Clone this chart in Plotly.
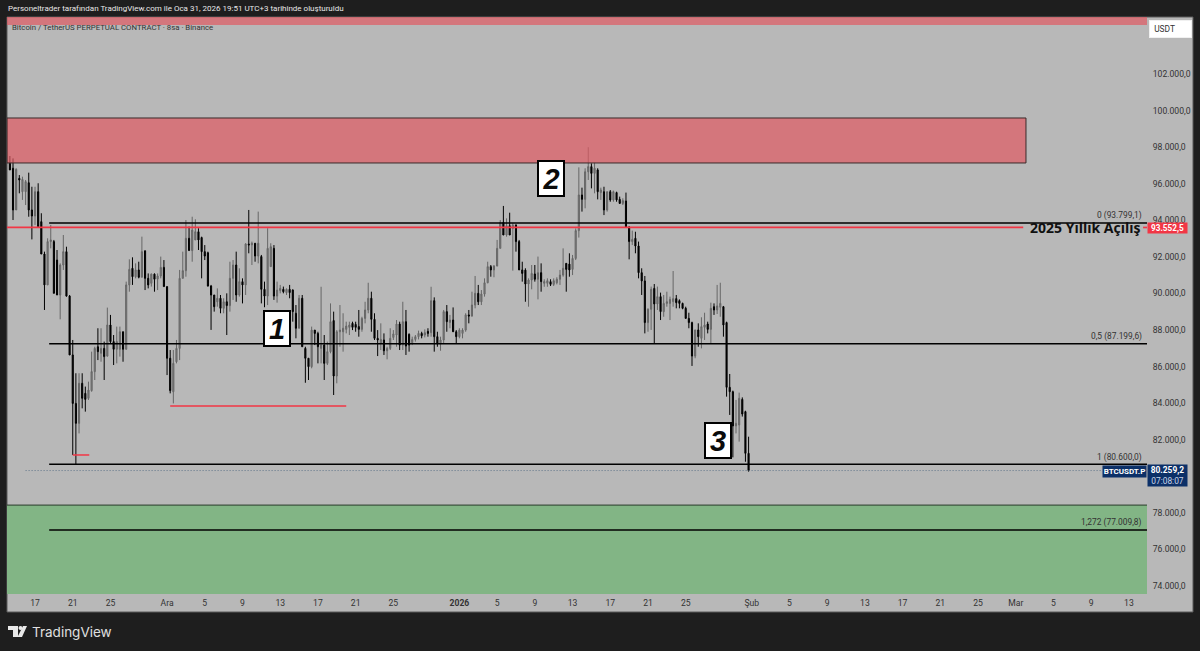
import pandas as pd
import plotly.graph_objects as go

# 8h mumlar
opens = [
    97060, 96790, 94510, 96240, 95510, 95510, 96000, 94510, 94180, 95510,
    93870, 92100, 90410, 92780, 92780, 91770, 89860, 91500, 92230, 89800,
    86580, 83930, 82840, 85030, 84480, 84210, 84630, 85670, 87030, 86670,
    86940, 86520, 88220, 87310, 86890, 86890, 87850, 86890, 90410, 91320,
    90860, 91230, 90830, 92280, 90770, 90500, 91000, 90730, 90900, 91370,
    90320, 86400, 84570, 86210, 86940, 90770, 91190, 92960, 92290, 92870,
    93320, 93000, 92230, 92170, 90350, 89860, 89490, 89680, 89130, 89490,
    89280, 90770, 91500, 89860, 90590, 90410, 92650, 92600, 92690, 91990,
    91960, 90170, 89800, 91410, 92410, 89800, 90100, 90170, 89990, 90170,
    90130, 88860, 88040, 89680, 86940, 86400, 85940, 87940, 87760, 86940,
    87120, 86120, 86760, 88460, 85430, 87850, 87850, 87980, 88090, 88310,
    88250, 88130, 87980, 88580, 89040, 89680, 88530, 87490, 87220, 87400,
    86810, 86940, 87540, 87670, 88270, 87120, 88400, 87710, 87250, 87430,
    87580, 87760, 87670, 87870, 87800, 89550, 87580, 87180, 87400, 88950,
    88360, 88490, 87850, 87580, 87760, 87940, 88770, 88710, 89310, 89950,
    89490, 89910, 90530, 91410, 91230, 91440, 92410, 93830, 93140, 93650,
    93500, 93690, 92780, 91230, 91220, 90460, 90680, 91010, 90720, 91080,
    90500, 90500, 90590, 90440, 90530, 90720, 90950, 91590, 91550, 91260,
    91860, 93380, 95330, 95090, 96600, 96880, 96510, 96700, 95460, 95510,
    94510, 95510, 95060, 95460, 95090, 94870, 95000, 93560, 92780, 92960,
    92540, 91080, 90630, 88350, 89080, 90220, 89370, 89770, 88950, 89400,
    89400, 89500, 89660, 89550, 89400, 89130, 88580, 88350, 86520, 87950,
    87490, 88090, 88270, 87980, 89220, 89040, 89190, 89220, 88350, 84810,
    84570, 82700, 82750, 84150, 83480, 81200,
]
highs = [
    97460, 97330, 96790, 96420, 96330, 96150, 96550, 95780, 95780, 95970,
    94330, 92230, 92960, 93690, 92870, 92320, 91590, 93140, 92500, 89860,
    87400, 85580, 85580, 85580, 84850, 85120, 86760, 87030, 88040, 88040,
    87310, 89170, 88770, 87670, 88130, 88130, 87850, 90590, 91810, 91920,
    91590, 91680, 93050, 92280, 91040, 91040, 91040, 91040, 91960, 91770,
    90320, 86850, 86850, 87400, 91230, 92230, 93960, 93600, 94140, 94000,
    93510, 93050, 92590, 92230, 90410, 89860, 90220, 89860, 89680, 89950,
    91680, 91770, 92230, 91320, 90770, 92690, 94510, 92780, 92690, 94420,
    92050, 90590, 93510, 92690, 92590, 90590, 90410, 90320, 90220, 90410,
    90170, 89310, 89860, 89860, 87030, 86400, 88130, 87940, 87850, 90310,
    87670, 87310, 89400, 88950, 87940, 89310, 88860, 88400, 88400, 88400,
    88400, 89040, 88670, 89490, 90530, 90040, 88860, 87940, 88310, 87760,
    87030, 88040, 87940, 88490, 88400, 89490, 89040, 87760, 87580, 87670,
    87910, 87850, 87980, 88040, 90310, 89730, 87850, 87580, 89040, 89310,
    88770, 89180, 87940, 88040, 88040, 88860, 89040, 90040, 90900, 90410,
    90130, 90770, 91680, 91500, 91500, 92870, 93960, 94730, 94050, 94360,
    93780, 93720, 92870, 91680, 91320, 90770, 91500, 91500, 91960, 91590,
    90720, 90770, 90720, 90770, 90830, 91230, 92410, 91590, 92140, 92050,
    93500, 96840, 95730, 96790, 97940, 97060, 97100, 96790, 95730, 95780,
    95510, 95600, 95570, 95510, 95240, 95150, 95460, 93630, 93380, 93320,
    92780, 91320, 90900, 89130, 90320, 90460, 90320, 89990, 89860, 90040,
    89770, 91170, 89860, 89620, 89440, 89220, 88890, 88400, 87950, 88310,
    88640, 88890, 88400, 89440, 89400, 90410, 90530, 89260, 88400, 85540,
    84630, 84120, 84520, 84260, 83530, 82110,
]
lows = [
    96690, 93960, 94510, 95420, 95060, 94780, 94140, 92900, 93690, 93600,
    92100, 89040, 90410, 92410, 89950, 89860, 88530, 91230, 89770, 86580,
    81110, 80600, 82290, 83660, 83480, 84120, 84570, 85210, 86300, 86210,
    85210, 86490, 87220, 86030, 86120, 86490, 86210, 86890, 90040, 90410,
    90770, 90770, 90830, 90130, 90220, 90320, 90040, 90130, 90770, 90320,
    85480, 84480, 83930, 86120, 86300, 90770, 90860, 92290, 91680, 92870,
    92320, 90770, 91770, 90320, 87950, 88950, 89220, 88860, 88860, 87670,
    88950, 89590, 89490, 89770, 89400, 89860, 92140, 91500, 91680, 91590,
    89400, 89190, 89310, 91410, 89590, 89440, 89950, 89950, 89860, 89680,
    88400, 87490, 88040, 87030, 85060, 85210, 85850, 87120, 86120, 86120,
    85210, 86030, 86670, 84390, 85030, 87030, 86760, 87760, 87670, 87940,
    87850, 87580, 87850, 88310, 88860, 87850, 87400, 86520, 86850, 86580,
    86340, 86850, 87400, 87030, 86850, 86850, 86580, 86760, 87120, 87310,
    87430, 87490, 87540, 87580, 87580, 86760, 87030, 86810, 87220, 87850,
    88040, 87850, 87220, 87490, 87490, 87850, 88310, 88670, 89130, 89310,
    89310, 89770, 90500, 90860, 90830, 91440, 92410, 93140, 93050, 93140,
    91190, 92230, 91230, 90590, 89490, 89220, 90170, 90590, 89620, 90040,
    90310, 90310, 90350, 90350, 90440, 90410, 90860, 90040, 90860, 90950,
    91770, 93000, 94420, 94600, 96150, 95690, 95420, 95090, 95060, 94230,
    94420, 94960, 94960, 94960, 94840, 94780, 93560, 91810, 92590, 92140,
    90770, 89860, 87760, 87850, 87950, 87180, 89040, 88490, 88670, 89220,
    88490, 89220, 89130, 89130, 89080, 88580, 88040, 85980, 86400, 87030,
    86940, 87400, 87760, 87220, 88770, 88820, 88670, 87580, 84300, 83300,
    80980, 82290, 81840, 83210, 80740, 80200,
]
closes = [
    96700, 94510, 96730, 96150, 96180, 96060, 94510, 94180, 95510, 93600,
    92100, 90410, 92780, 92870, 89950, 89860, 91500, 92230, 89800, 86580,
    83930, 82840, 85030, 84210, 84150, 84660, 85670, 86940, 86760, 86940,
    86490, 88220, 87310, 86890, 87310, 87850, 86890, 90410, 91260, 90860,
    91230, 90830, 92230, 90770, 90410, 91000, 90720, 90900, 91370, 90320,
    86400, 84630, 86120, 86940, 90770, 91190, 92960, 92290, 93410, 93320,
    92870, 92230, 91990, 90350, 89860, 89220, 89680, 89130, 89490, 89280,
    90770, 91500, 89860, 90590, 90410, 92650, 92600, 92690, 91990, 92690,
    90170, 89800, 92410, 92500, 89800, 90130, 90220, 90040, 90170, 89990,
    88950, 88040, 89680, 87030, 86400, 85940, 87940, 87760, 87030, 87120,
    86120, 86760, 88400, 85430, 87850, 87940, 88040, 88160, 88220, 88090,
    88090, 87980, 88580, 89040, 89680, 88530, 87490, 87400, 87430, 86810,
    86940, 87490, 87730, 88270, 87120, 88400, 87070, 87120, 87430, 87580,
    87760, 87630, 87800, 87760, 89550, 87580, 87180, 87400, 88950, 88400,
    88490, 87850, 87580, 87940, 87940, 88770, 88710, 89310, 89950, 89490,
    89910, 90530, 91410, 91230, 91440, 92410, 93830, 93140, 93650, 93140,
    93690, 92780, 91230, 91040, 90460, 90680, 91040, 90720, 91080, 90590,
    90590, 90640, 90440, 90640, 90720, 90950, 91320, 91260, 91230, 91860,
    93380, 95330, 95090, 96600, 96880, 96510, 96790, 95510, 95600, 94510,
    95510, 95060, 95510, 95060, 94870, 95020, 93560, 92780, 92900, 92540,
    91080, 90630, 88350, 89080, 90170, 89370, 89770, 88950, 89400, 89490,
    89620, 89660, 89440, 89400, 89130, 88580, 88350, 86520, 87950, 87580,
    88130, 88220, 87980, 89130, 89040, 89260, 89400, 88220, 84810, 84570,
    82700, 82840, 84210, 83350, 81200, 80259.2,
]

# fib seviyeleri
fib_levels = [93799.1, 87199.6, 80600.0, 77009.8]
fib_labels = ["0 (93.799,1)", "0,5 (87.199,6)", "1 (80.600,0)", "1,272 (77.009,8)"]

yearly_open = 93552.5
last_price = 80259.2
upper_zone = [97080, 99540]
top_zone_low = 104620
green_zone_high = 78370
low_marks = [("2025-11-21 00:00", "2025-11-22 18:00", 81110), ("2025-12-01 08:00", "2025-12-20 00:00", 83790)]

y_ticks = [102000, 100000, 98000, 96000, 94000, 92000, 90000, 88000, 86000, 84000, 82000, 78000, 76000, 74000]
x_tick_dates = [
    "2025-11-17", "2025-11-21", "2025-11-25", "2025-12-01", "2025-12-05", "2025-12-09", "2025-12-13",
    "2025-12-17", "2025-12-21", "2025-12-25", "2026-01-01", "2026-01-05", "2026-01-09", "2026-01-13",
    "2026-01-17", "2026-01-21", "2026-01-25", "2026-02-01", "2026-02-05", "2026-02-09", "2026-02-13",
    "2026-02-17", "2026-02-21", "2026-02-25", "2026-03-01", "2026-03-05", "2026-03-09", "2026-03-13",
]
x_tick_text = [
    "17", "21", "25", "Ara", "5", "9", "13", "17", "21", "25", "<b>2026</b>", "5", "9", "13",
    "17", "21", "25", "Şub", "5", "9", "13", "17", "21", "25", "Mar", "5", "9", "13",
]

FONT = "Roboto"
BG = "#b8b8b8"
DARK = "#1e1e1e"
NAVY = "#0c3068"
RED = "#f23645"
W, H = 1200, 651
L, R, T, B = 7, 1147, 17, 594
X_START, X_END = "2025-11-14 00:40", "2026-03-14 22:00"


def px(x):
    return (x - L) / (R - L)


def py(y):
    return (B - y) / (B - T)


def fmt(v):
    return f"{v:,.1f}".replace(",", "_").replace(".", ",").replace("_", ".")


times = pd.date_range("2025-11-14 08:00", periods=len(opens), freq="8h")

fig = go.Figure()
fig.add_trace(go.Candlestick(
    x=times, open=opens, high=highs, low=lows, close=closes,
    increasing=dict(line=dict(color="#666666", width=1), fillcolor="#808080"),
    decreasing=dict(line=dict(color="#000000", width=1), fillcolor="#000000"),
    whiskerwidth=0, hoverinfo="skip", showlegend=False,
))

# fib cizgileri
for lvl in fib_levels:
    fig.add_trace(go.Scatter(x=["2025-11-18 12:00", X_END], y=[lvl, lvl], mode="lines",
                             line=dict(color="#000000", width=1.5), hoverinfo="skip", showlegend=False))

# yesil bolgenin ust kenari
fig.add_trace(go.Scatter(x=[X_START, X_END], y=[green_zone_high, green_zone_high], mode="lines",
                         line=dict(color="#2a3a2a", width=1), hoverinfo="skip", showlegend=False))

# 2025 yillik acilis, yazinin oldugu yerde bosluk var
for x0, x1 in [(X_START, "2026-03-01 19:00"), ("2026-03-14 12:00", X_END)]:
    fig.add_trace(go.Scatter(x=[x0, x1], y=[yearly_open, yearly_open], mode="lines",
                             line=dict(color=RED, width=1.7), hoverinfo="skip", showlegend=False))

for x0, x1, lvl in low_marks:
    fig.add_trace(go.Scatter(x=[x0, x1], y=[lvl, lvl], mode="lines",
                             line=dict(color=RED, width=1.5), hoverinfo="skip", showlegend=False))

fig.add_trace(go.Scatter(x=["2025-11-16 00:00", "2026-03-10 00:00"], y=[last_price, last_price], mode="lines",
                         line=dict(color="#5f7488", width=1, dash="1px,2px"), hoverinfo="skip", showlegend=False))

RED_FILL = "rgba(224,90,99,0.7)"
shapes = [
    # sag ve alt fiyat/zaman seritleri
    dict(type="rect", xref="paper", yref="paper", x0=0, x1=px(1193), y0=py(612), y1=1,
         fillcolor=BG, line=dict(color="#5a5a5a", width=1), layer="below"),
    dict(type="rect", xref="x", yref="y", x0=X_START, x1=X_END, y0=top_zone_low, y1=106000,
         fillcolor=RED_FILL, line=dict(width=0), layer="above"),
    dict(type="rect", xref="x", yref="y", x0=X_START, x1="2026-03-02 02:00", y0=upper_zone[0], y1=upper_zone[1],
         fillcolor=RED_FILL, line=dict(color="#3a2a2a", width=1), layer="above"),
    dict(type="rect", xref="x", yref="y", x0=X_START, x1=X_END, y0=70000, y1=green_zone_high,
         fillcolor="#82b585", line=dict(width=0), layer="below"),
    # TradingView logosu
    dict(type="path", xref="paper", yref="paper", fillcolor="#e8e8e8", line=dict(width=0),
         path="M {} {} L {} {} L {} {} L {} {} L {} {} L {} {} Z".format(
             px(8), py(626), px(18), py(626), px(18), py(637), px(13), py(637), px(13), py(630), px(8), py(630))),
    dict(type="path", xref="paper", yref="paper", fillcolor="#e8e8e8", line=dict(width=0),
         path="M {} {} L {} {} L {} {} L {} {} Z".format(
             px(23), py(626), px(27), py(626), px(22), py(637), px(17.5), py(637))),
    dict(type="circle", xref="paper", yref="paper", fillcolor="#e8e8e8", line=dict(width=0),
         x0=px(18.5), x1=px(22.5), y0=py(630), y1=py(626)),
]

annotations = []


def note(text, x, y, size, color, xanchor="left", yanchor="middle", yref="paper", yshift=0, **kw):
    annotations.append(dict(
        text=text, x=px(x), y=py(y) if yref == "paper" else y, xref="paper", yref=yref,
        xanchor=xanchor, yanchor=yanchor, yshift=yshift, showarrow=False,
        font=dict(family=kw.pop("family", FONT), size=size, color=color), **kw))


note("Personeltrader tarafından TradingView.com ile Oca 31, 2026 19:51 UTC+3 tarihinde oluşturuldu",
     5.5, 9, 8, "#e8e8e8")
note("Bitcoin / TetherUS PERPETUAL CONTRACT · 8sa · Binance", 10, 27.5, 7.8, "#333333")
note("TradingView", 30, 632, 13.5, "#e0e0e0", family="Inter")

for lvl, lab in zip(fib_levels, fib_labels):
    note(lab, 1144, lvl, 8.4, "#333333", xanchor="right", yref="y", yshift=7)

note("<b>2025 Yıllık Açılış</b>", 1027.5, yearly_open, 14, "#101010", yref="y", family="Open Sans")

note("<b>93.552,5</b>", 1167, yearly_open, 8.2, "#ffffff", xanchor="center", yref="y", yshift=-1,
     bgcolor=RED, width=39, height=10, borderpad=0)
note("<b>BTCUSDT.P</b>", 1124.5, 471.5, 8, "#ffffff", xanchor="center", bgcolor=NAVY, width=43, height=11, borderpad=0)
note("<b>80.259,2</b><br><span style='color:#c8d4e8'>07:08:07</span>", 1167, 476, 8.4, "#ffffff",
     xanchor="center", bgcolor=NAVY, width=39, height=21, borderpad=0)
note("&nbsp;&nbsp;USDT", 1170, 29, 8.4, "#333333", xanchor="center", align="left", bgcolor="#ffffff",
     bordercolor="#f0f0f0", width=41, height=16, borderpad=0)

for text, x, y in [("1", 276.5, 328.5), ("2", 550.5, 178.5), ("3", 717.5, 440.5)]:
    note(f"<b><i>{text}</i></b>", x, y, 29, "#0a0a0a", xanchor="center", family="Liberation Sans", bgcolor="#ffffff",
         bordercolor="#000000", borderwidth=2, width=24, height=33, borderpad=0)

fig.update_layout(
    width=W, height=H,
    margin=dict(l=L, r=W - R, t=T, b=H - B, pad=0),
    paper_bgcolor=DARK, plot_bgcolor=BG,
    shapes=shapes, annotations=annotations,
    showlegend=False, hovermode=False, boxgap=0.5,
    font=dict(family=FONT, size=8.4, color="#333333"),
    xaxis=dict(
        type="date", range=[X_START, X_END], rangeslider=dict(visible=False),
        tickmode="array", tickvals=x_tick_dates, ticktext=x_tick_text, tickangle=0,
        showgrid=False, zeroline=False, showline=False, ticks="outside", ticklen=1, tickcolor="rgba(0,0,0,0)",
        tickfont=dict(family=FONT, size=8.6, color="#333333"),
    ),
    yaxis=dict(
        side="right", range=[73507, 105063],
        tickmode="array", tickvals=y_ticks, ticktext=[fmt(v) for v in y_ticks],
        showgrid=False, zeroline=False, showline=False, ticks="outside", ticklen=3, tickcolor="rgba(0,0,0,0)",
        ticklabelshift=1, tickfont=dict(family=FONT, size=8.6, color="#333333"),
    ),
)

fig.write_html("out.html", config=dict(displayModeBar=False),
               post_script="document.body.style.margin='0';document.body.style.background='#1e1e1e';")
